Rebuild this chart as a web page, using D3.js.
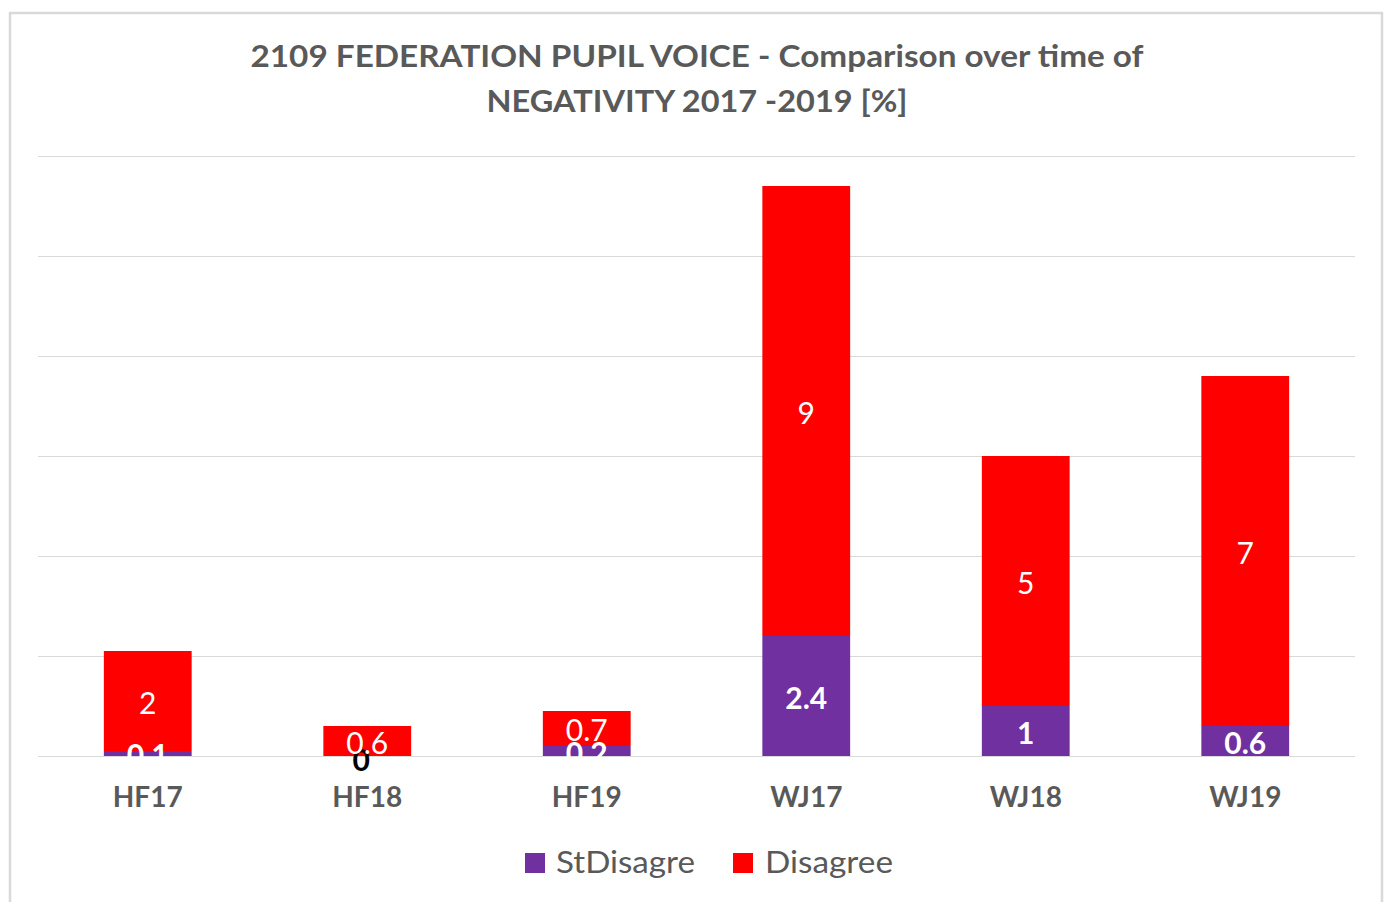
<!DOCTYPE html>
<html>
<head>
<meta charset="utf-8">
<script src="https://cdn.jsdelivr.net/npm/d3@7"></script>
<style>
  html, body { margin: 0; padding: 0; background: #ffffff; }
  svg { display: block; }
  text { font-family: Lato, "Open Sans", "DejaVu Sans", sans-serif; }
</style>
</head>
<body>
<svg id="chart" width="1387" height="902"></svg>
<script>
// ---- Data ----
const categories = ["HF17", "HF18", "HF19", "WJ17", "WJ18", "WJ19"];
const stDisagree = [0.1, 0, 0.2, 2.4, 1, 0.6];
const disagree = [2, 0.6, 0.7, 9, 5, 7];
const seriesNames = ["StDisagre", "Disagree"];
const yTicks = [0, 2, 4, 6, 8, 10, 12];
const titleLines = ["2109 FEDERATION PUPIL VOICE - Comparison over time of", "NEGATIVITY 2017 -2019 [%]"];

// ---- Layout ----
const svg = d3.select("#chart");
const colors = { StDisagre: "#7030A0", Disagree: "#FF0000" };
const textGray = "#595959";

// outer border
svg.append("rect")
  .attr("x", 10).attr("y", 13)
  .attr("width", 1372).attr("height", 920)
  .attr("fill", "#ffffff")
  .attr("stroke", "#d9d9d9").attr("stroke-width", 2.5);

const x = d3.scaleBand()
  .domain(categories)
  .range([38, 1355])
  .paddingInner(0.6)
  .paddingOuter(0.3);

const y = d3.scaleLinear().domain([0, 12]).range([756, 156]);

// gridlines
svg.append("g").selectAll("line").data(yTicks).join("line")
  .attr("x1", 38).attr("x2", 1355)
  .attr("y1", d => y(d) + 0.5).attr("y2", d => y(d) + 0.5)
  .attr("stroke", "#d9d9d9").attr("stroke-width", 1);

// stacked data
const rows = categories.map((c, i) => ({ cat: c, StDisagre: stDisagree[i], Disagree: disagree[i] }));
const stack = d3.stack().keys(seriesNames)(rows);

const gBars = svg.append("g");
stack.forEach(layer => {
  gBars.append("g").selectAll("rect").data(layer).join("rect")
    .attr("x", d => x(d.data.cat))
    .attr("width", x.bandwidth())
    .attr("y", d => y(d[1]))
    .attr("height", d => y(d[0]) - y(d[1]))
    .attr("fill", colors[layer.key]);
});

// data labels
stack.forEach(layer => {
  const bold = layer.key === "StDisagre";
  svg.append("g").selectAll("text").data(layer).join("text")
    .attr("x", d => x(d.data.cat) + x.bandwidth() / 2)
    .attr("y", d => (y(d[0]) + y(d[1])) / 2)
    .attr("dx", d => (d[1] - d[0]) === 0 ? -6 : 0)
    .attr("dy", d => (d[1] - d[0]) === 0 ? "0.5em" : "0.42em")
    .attr("text-anchor", "middle")
    .attr("font-size", 30)
    .attr("font-weight", bold ? 700 : 400)
    .attr("fill", d => (d[1] - d[0]) === 0 ? "#000000" : "#ffffff")
    .text(d => String(d.data[layer.key]));
});

// x axis labels
const xAxis = d3.axisBottom(x).tickSize(0).tickPadding(0);
const gx = svg.append("g").attr("transform", "translate(0,756)").call(xAxis);
gx.select(".domain").remove();
gx.selectAll("text")
  .attr("y", 51).attr("dy", 0)
  .attr("font-size", 28)
  .attr("font-weight", 700)
  .attr("fill", textGray)
  .style("font-family", "Lato, 'Open Sans', sans-serif");

// title
const titleY = [67, 112];
const titleWidths = [893, 421];
svg.append("g").selectAll("text").data(titleLines).join("text")
  .attr("x", 697)
  .attr("y", (d, i) => titleY[i])
  .attr("text-anchor", "middle")
  .attr("font-size", 31)
  .attr("font-weight", 700)
  .attr("fill", textGray)
  .attr("textLength", (d, i) => titleWidths[i])
  .attr("lengthAdjust", "spacingAndGlyphs")
  .text(d => d);

// legend
const legendX = [525, 733];
const legendTextW = [139, 128];
const lg = svg.append("g").selectAll("g").data(seriesNames).join("g")
  .attr("transform", (d, i) => `translate(${legendX[i]},853)`);
lg.append("rect").attr("width", 20).attr("height", 20).attr("fill", d => colors[d]);
lg.append("text")
  .attr("x", (d, i) => i === 0 ? 31 : 32)
  .attr("y", 20)
  .attr("font-size", 30)
  .attr("fill", textGray)
  .attr("textLength", (d, i) => legendTextW[i])
  .attr("lengthAdjust", "spacingAndGlyphs")
  .text(d => d);
</script>
</body>
</html>
